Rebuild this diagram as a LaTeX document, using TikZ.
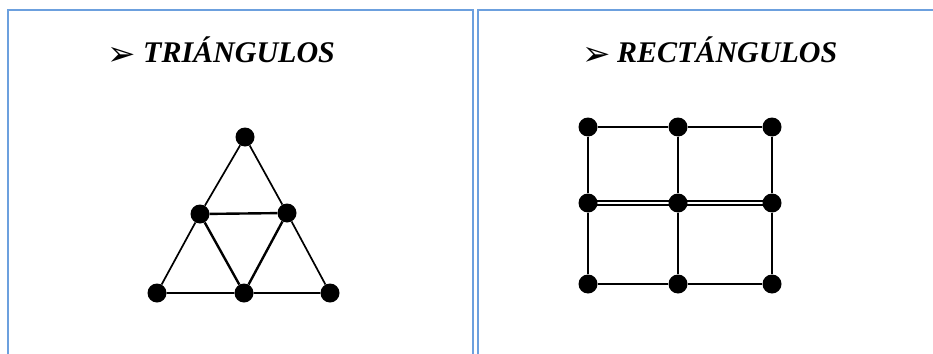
\documentclass[tikz,border=0pt]{standalone}
\usepackage{fontspec}
\setmainfont{Liberation Serif}
\newfontfamily\symfont{DejaVu Sans}
\definecolor{cellblue}{RGB}{108,160,222}
\begin{document}
\begin{tikzpicture}[x=1pt,y=-1pt,
  border/.style={draw=cellblue,line width=1.8pt},
  dot/.style={circle,fill=black,inner sep=0pt,minimum size=19pt},
  edge/.style={line width=1.7pt},
  thick edge/.style={line width=2.4pt},
  title/.style={anchor=base west,inner sep=0pt,font=\fontsize{30}{30}\selectfont\bfseries\itshape},
  arrowmark/.style={anchor=base west,inner sep=0pt,font=\symfont\fontsize{34}{34}\selectfont}]
\useasboundingbox (0,0) rectangle (933,353);
\fill[white] (0,0) rectangle (933,353);
% table cells
\draw[border] (8,360) -- (8,10) -- (473,10) -- (473,360);
\draw[border] (478,360) -- (478,10) -- (940,10);
% titles
\node[arrowmark] (a1) at (107,66) {➢};
\node[title] (t1) at (143,63) {TRIÁNGULOS};
\node[arrowmark] (a2) at (582,66) {➢};
\node[title] (t2) at (617,63) {RECTÁNGULOS};
% triangle
\node[dot] (p1) at (245,137) {};
\node[dot] (p2) at (200,214) {};
\node[dot] (p3) at (287,213) {};
\node[dot] (p4) at (157,293) {};
\node[dot] (p5) at (244,293) {};
\node[dot] (p6) at (330,293) {};
\draw[edge] (p1) -- (p2) -- (p4) -- (p5) -- (p6) -- (p3) -- (p1);
\draw[thick edge] (p2) -- (p3) -- (p5) -- (p2);
% rectangles
\node[dot] (r11) at (588,127) {};
\node[dot] (r12) at (678,127) {};
\node[dot] (r13) at (772,127) {};
\node[dot] (r21) at (588,203) {};
\node[dot] (r22) at (678,203) {};
\node[dot] (r23) at (772,203) {};
\node[dot] (r31) at (588,284) {};
\node[dot] (r32) at (678,284) {};
\node[dot] (r33) at (772,284) {};
\draw[edge] (r11) -- (r12) -- (r13) -- (r23) -- (r33) -- (r32) -- (r31) -- (r21) -- (r11);
\draw[edge] (r12) -- (r22) -- (r32);
\draw[edge] ([yshift=-1.7pt]r21.center) -- ([yshift=-1.7pt]r22.center) -- ([yshift=-1.7pt]r23.center);
\draw[edge] ([yshift=1.7pt]r21.center) -- ([yshift=1.7pt]r22.center) -- ([yshift=1.7pt]r23.center);
\end{tikzpicture}
\end{document}
